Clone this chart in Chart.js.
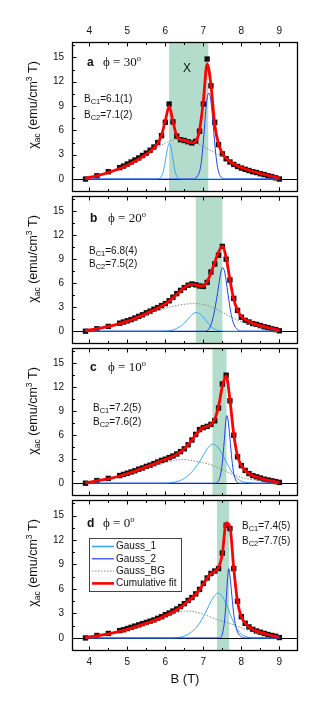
<!DOCTYPE html>
<html>
<head>
<meta charset="utf-8">
<script src="https://cdn.jsdelivr.net/npm/chart.js@4.4.1/dist/chart.umd.min.js"></script>
<style>
html, body { margin: 0; padding: 0; background: #fff; }
#wrap { position: relative; width: 332px; height: 712px; overflow: hidden; }
canvas { position: absolute; left: 0; }
</style>
</head>
<body>
<div id="wrap">
  <canvas id="pa" width="332" height="196" style="top:0px;width:332px;height:196px"></canvas>
  <canvas id="pb" width="332" height="156" style="top:192px;width:332px;height:156px"></canvas>
  <canvas id="pc" width="332" height="156" style="top:344px;width:332px;height:156px"></canvas>
  <canvas id="pd" width="332" height="216" style="top:496px;width:332px;height:216px"></canvas>
</div>
<script>
// field values of the measured points (T)
const field = [3.9, 4.2, 4.5, 4.8, 4.9, 5.0, 5.1, 5.2, 5.3, 5.4, 5.5, 5.6, 5.7, 5.8, 5.9, 6.0,
  6.1, 6.2, 6.3, 6.4, 6.5, 6.6, 6.7, 6.8, 6.9, 7.0, 7.1, 7.2, 7.3, 7.4, 7.5, 7.6, 7.7, 7.8,
  7.9, 8.0, 8.1, 8.2, 8.3, 8.4, 8.5, 8.6, 8.7, 8.8, 8.9, 9.0];

// measured chi_ac, one list per angle
const chiA = [0.0, 0.4, 0.9, 1.4, 1.6, 1.85, 2.1, 2.35, 2.6, 2.9, 3.2, 3.55, 3.95, 4.5, 5.35, 7.0,
  9.25, 7.05, 5.3, 4.85, 4.75, 4.6, 4.45, 4.65, 5.9, 9.25, 14.8, 11.5, 7.0, 4.25, 3.1, 2.5, 2.1, 1.8,
  1.55, 1.35, 1.2, 1.05, 0.9, 0.8, 0.65, 0.55, 0.4, 0.3, 0.15, 0.0];
const chiB = [0.0, 0.3, 0.6, 1.0, 1.15, 1.3, 1.45, 1.65, 1.85, 2.05, 2.3, 2.5, 2.75, 2.95, 3.2, 3.45,
  3.8, 4.25, 4.7, 5.1, 5.45, 5.75, 5.9, 5.8, 5.65, 5.6, 6.1, 7.4, 8.4, 9.5, 10.6, 9.0, 6.4, 4.1,
  2.6, 1.75, 1.35, 1.15, 0.95, 0.85, 0.7, 0.55, 0.45, 0.3, 0.2, 0.05];
const chiC = [0.0, 0.33, 0.6, 0.95, 1.1, 1.25, 1.4, 1.55, 1.75, 1.9, 2.1, 2.25, 2.45, 2.65, 2.85, 3.0,
  3.2, 3.4, 3.65, 3.95, 4.3, 4.8, 5.4, 6.1, 6.7, 6.95, 7.1, 7.35, 7.8, 9.4, 12.4, 13.5, 10.3, 6.0,
  3.3, 2.2, 1.6, 1.2, 0.95, 0.8, 0.65, 0.5, 0.4, 0.3, 0.2, 0.1];
const chiD = [0.0, 0.3, 0.55, 0.9, 1.0, 1.15, 1.3, 1.45, 1.6, 1.75, 1.9, 2.05, 2.2, 2.4, 2.6, 2.85,
  3.05, 3.3, 3.55, 3.85, 4.2, 4.6, 4.95, 5.4, 5.95, 6.7, 7.35, 7.9, 8.2, 8.5, 10.4, 13.8, 13.4, 8.5,
  4.5, 2.6, 1.8, 1.35, 1.05, 0.85, 0.7, 0.55, 0.42, 0.3, 0.2, 0.05];

// cumulative fit, same field grid
const fitA = [0.1, 0.4, 0.8, 1.3, 1.5, 1.7, 1.95, 2.2, 2.45, 2.75, 3.05, 3.4, 3.85, 4.4, 5.4, 7.2,
  8.95, 7.1, 5.3, 4.85, 4.75, 4.6, 4.45, 4.65, 6.0, 9.6, 14.2, 11.6, 6.7, 4.3, 3.2, 2.55, 2.15, 1.85,
  1.6, 1.4, 1.25, 1.1, 0.95, 0.82, 0.7, 0.58, 0.45, 0.35, 0.22, 0.1];
const fitB = [0.1, 0.3, 0.6, 0.95, 1.1, 1.25, 1.4, 1.6, 1.8, 2.0, 2.2, 2.45, 2.65, 2.9, 3.15, 3.4,
  3.75, 4.15, 4.6, 5.05, 5.45, 5.75, 5.85, 5.8, 5.65, 5.65, 6.2, 7.3, 8.6, 9.9, 10.6, 9.2, 6.4, 4.0,
  2.6, 1.85, 1.45, 1.2, 1.0, 0.85, 0.7, 0.58, 0.45, 0.35, 0.22, 0.12];
const fitC = [0.05, 0.3, 0.55, 0.9, 1.05, 1.2, 1.35, 1.5, 1.7, 1.85, 2.05, 2.2, 2.4, 2.6, 2.8, 2.95,
  3.15, 3.35, 3.6, 3.9, 4.3, 4.8, 5.4, 6.05, 6.6, 6.95, 7.1, 7.35, 8.0, 9.6, 12.1, 13.4, 10.4, 6.1,
  3.4, 2.2, 1.55, 1.2, 0.95, 0.78, 0.62, 0.5, 0.38, 0.28, 0.18, 0.1];
const fitD = [0.05, 0.25, 0.5, 0.8, 0.92, 1.05, 1.2, 1.35, 1.5, 1.65, 1.8, 1.95, 2.12, 2.3, 2.5, 2.75,
  2.95, 3.2, 3.45, 3.75, 4.1, 4.5, 4.9, 5.35, 5.9, 6.6, 7.3, 7.85, 8.15, 8.6, 10.3, 14.1, 13.6, 8.5,
  4.4, 2.6, 1.8, 1.35, 1.05, 0.85, 0.7, 0.55, 0.42, 0.3, 0.2, 0.1];

// fit components, [field, chi] pairs
const gauss1A = [[3.9, 0], [5.8, 0], [5.9, 0.35], [5.95, 1.0], [6.0, 2.2], [6.05, 3.6], [6.1, 4.4],
  [6.15, 3.9], [6.2, 2.5], [6.25, 1.1], [6.3, 0.35], [6.4, 0], [9.0, 0]];
const gauss2A = [[3.9, 0], [6.75, 0], [6.85, 0.4], [6.9, 0.9], [6.95, 2.2], [7.0, 4.6], [7.05, 7.6],
  [7.1, 10.0], [7.15, 10.6], [7.2, 9.6], [7.25, 7.2], [7.3, 4.4], [7.35, 2.2], [7.4, 0.9],
  [7.45, 0.35], [7.55, 0], [9.0, 0]];
const bgA = [[3.9, 0.1], [4.5, 0.8], [5.0, 1.7], [5.5, 3.0], [5.8, 3.9], [6.0, 4.45], [6.2, 4.8],
  [6.4, 4.95], [6.6, 4.8], [6.8, 4.45], [7.0, 4.0], [7.2, 3.5], [7.4, 3.0], [7.6, 2.5], [7.8, 1.95],
  [8.0, 1.45], [8.3, 0.9], [8.6, 0.5], [9.0, 0.15]];

const gauss1B = [[3.9, 0], [6.0, 0], [6.2, 0.15], [6.4, 0.6], [6.5, 1.0], [6.6, 1.55], [6.7, 2.05],
  [6.8, 2.35], [6.9, 2.2], [7.0, 1.75], [7.1, 1.15], [7.2, 0.6], [7.3, 0.25], [7.4, 0.08], [7.6, 0],
  [9.0, 0]];
const gauss2B = [[3.9, 0], [7.05, 0], [7.15, 0.3], [7.2, 0.8], [7.25, 1.6], [7.3, 2.7], [7.35, 4.1],
  [7.4, 5.6], [7.45, 7.1], [7.5, 7.95], [7.55, 7.6], [7.6, 6.3], [7.65, 4.6], [7.7, 3.0], [7.75, 1.7],
  [7.8, 0.9], [7.9, 0.2], [8.0, 0], [9.0, 0]];
const bgB = [[3.9, 0.05], [4.5, 0.6], [5.0, 1.25], [5.5, 2.05], [6.0, 2.85], [6.4, 3.3], [6.8, 3.45],
  [7.0, 3.35], [7.2, 3.05], [7.4, 2.6], [7.6, 2.1], [7.8, 1.6], [8.0, 1.2], [8.3, 0.75], [8.6, 0.4],
  [9.0, 0.1]];

const gauss1C = [[3.9, 0], [6.0, 0], [6.2, 0.1], [6.4, 0.35], [6.6, 0.95], [6.8, 2.0], [6.9, 2.7],
  [7.0, 3.5], [7.1, 4.3], [7.2, 4.8], [7.25, 4.9], [7.3, 4.85], [7.4, 4.4], [7.5, 3.6], [7.6, 2.7],
  [7.7, 1.8], [7.8, 1.05], [7.9, 0.55], [8.0, 0.25], [8.2, 0.05], [8.4, 0], [9.0, 0]];
const gauss2C = [[3.9, 0], [7.3, 0], [7.4, 0.3], [7.45, 1.0], [7.5, 2.6], [7.55, 5.3], [7.6, 8.2],
  [7.62, 8.45], [7.65, 7.9], [7.7, 5.6], [7.75, 3.0], [7.8, 1.2], [7.85, 0.4], [7.95, 0], [9.0, 0]];
const bgC = [[3.9, 0.05], [4.5, 0.55], [5.0, 1.1], [5.5, 1.85], [6.0, 2.55], [6.3, 2.9], [6.5, 2.95],
  [6.8, 2.75], [7.0, 2.55], [7.2, 2.3], [7.5, 1.7], [7.8, 1.05], [8.1, 0.6], [8.5, 0.3], [9.0, 0.1]];

const gauss1D = [[3.9, 0], [6.2, 0], [6.4, 0.1], [6.6, 0.45], [6.8, 1.2], [6.9, 1.8], [7.0, 2.6],
  [7.1, 3.5], [7.2, 4.5], [7.3, 5.2], [7.37, 5.5], [7.45, 5.35], [7.55, 4.7], [7.65, 3.6],
  [7.75, 2.4], [7.85, 1.4], [7.95, 0.7], [8.1, 0.2], [8.3, 0], [9.0, 0]];
const gauss2D = [[3.9, 0], [7.45, 0], [7.5, 0.5], [7.55, 1.8], [7.6, 4.5], [7.64, 7.5], [7.67, 8.5],
  [7.7, 7.6], [7.75, 5.2], [7.8, 2.9], [7.85, 1.5], [7.9, 0.7], [8.0, 0.15], [8.1, 0], [9.0, 0]];
const bgD = [[3.9, 0.05], [4.5, 0.45], [5.0, 0.95], [5.5, 1.6], [6.0, 2.45], [6.3, 3.05], [6.5, 3.3],
  [6.7, 3.25], [7.0, 2.9], [7.3, 2.35], [7.6, 1.9], [7.9, 1.45], [8.2, 0.9], [8.5, 0.5], [9.0, 0.1]];

// shaded B_C1..B_C2 windows
const bands = [[6.1, 7.13], [6.8, 7.5], [7.24, 7.61], [7.36, 7.68]];
const phiLabels = ['30', '20', '10', '0'];
const bc1Labels = ['6.1(1)', '6.8(4)', '7.2(5)', '7.4(5)'];
const bc2Labels = ['7.1(2)', '7.5(2)', '7.6(2)', '7.7(5)'];
const legendLabels = ['Gauss_1', 'Gauss_2', 'Gauss_BG', 'Cumulative fit'];

const xTicks = [4, 5, 6, 7, 8, 9];
const yTicks = [0, 3, 6, 9, 12, 15];
const xMin = 3.545, xMax = 9.49, yMin = -1.6, yMax = 16.9;

const LS = "'Liberation Sans', Arial, sans-serif";
const SERIF = "'Liberation Serif', 'Times New Roman', serif";
Chart.defaults.font.family = LS;
Chart.defaults.color = '#111';

const colG1 = '#3aa8f2', colG2 = '#1f40e8', colBG = '#8a8a8a', colFit = '#ff0000';

const pts = (xs, ys) => xs.map((v, i) => ({ x: v, y: ys[i] }));
const pairs = arr => arr.map(p => ({ x: p[0], y: p[1] }));

// draw a run of text pieces (sub/superscripts)
function rich(ctx, parts, x, y, center) {
  let w = 0;
  for (const p of parts) { ctx.font = p[1]; w += ctx.measureText(p[0]).width; }
  let cx = center ? x - w / 2 : x;
  for (const p of parts) {
    ctx.font = p[1];
    ctx.fillText(p[0], cx, y + (p[2] || 0));
    cx += ctx.measureText(p[0]).width;
  }
}

function makeDeco(p) {
  return {
    id: 'deco' + p.letter,
    beforeDatasetsDraw(chart) {
      const { ctx, chartArea: ca, scales: { x, y } } = chart;
      ctx.save();
      const x0 = x.getPixelForValue(p.band[0]), x1 = x.getPixelForValue(p.band[1]);
      ctx.fillStyle = '#b3dccd';
      ctx.fillRect(x0, ca.top, x1 - x0, ca.bottom - ca.top);
      const y0 = Math.round(y.getPixelForValue(0)) + 0.5;
      ctx.strokeStyle = '#000';
      ctx.lineWidth = 1;
      ctx.beginPath(); ctx.moveTo(ca.left, y0); ctx.lineTo(ca.right, y0); ctx.stroke();
      ctx.restore();
    },
    afterDraw(chart) {
      const { ctx, chartArea: ca, scales: { x, y } } = chart;
      ctx.save();
      // frame
      ctx.strokeStyle = '#000';
      ctx.lineWidth = 1.3;
      ctx.strokeRect(ca.left + 0.5, ca.top + 0.5, ca.right - ca.left - 1, ca.bottom - ca.top - 1);
      // inward ticks
      ctx.lineWidth = 1;
      ctx.beginPath();
      xTicks.flatMap(v => [v - 0.5, v]).concat([9.0]).forEach(v => {
        if (v < xMin || v > xMax) return;
        const px = Math.round(x.getPixelForValue(v)) + 0.5;
        const len = Number.isInteger(v) ? 4.5 : 3;
        ctx.moveTo(px, ca.top); ctx.lineTo(px, ca.top + len);
        ctx.moveTo(px, ca.bottom); ctx.lineTo(px, ca.bottom - len);
      });
      yTicks.flatMap(v => [v, v + 1.5]).forEach(v => {
        if (v > yMax) return;
        const py = Math.round(y.getPixelForValue(v)) + 0.5;
        const len = v % 3 === 0 ? 4.5 : 3;
        ctx.moveTo(ca.left, py); ctx.lineTo(ca.left + len, py);
      });
      ctx.stroke();

      ctx.fillStyle = '#111';
      ctx.textBaseline = 'middle';
      ctx.textAlign = 'left';

      // y title
      ctx.save();
      ctx.translate(34, ca.top + 63);
      ctx.rotate(-Math.PI / 2);
      rich(ctx, [['\u03c7', `12.5px ${LS}`], ['ac', `8.5px ${LS}`, 3.5], [' (emu/cm', `12.5px ${LS}`],
        ['3', `8.5px ${LS}`, -4.5], [' T)', `12.5px ${LS}`]], 0, 0, true);
      ctx.restore();

      // panel letter and angle
      ctx.font = `bold 12px ${LS}`;
      ctx.fillText(p.letter, p.lab[0], ca.top + p.lab[1]);
      rich(ctx, [['\u03d5 = ' + p.phi, `13px ${SERIF}`], ['o', `8.5px ${SERIF}`, -4.5]], p.lab[2], ca.top + p.lab[1]);

      // critical fields
      rich(ctx, [['B', `10px ${LS}`], ['C1', `7.5px ${LS}`, 3], ['=' + p.bc1, `10px ${LS}`]], p.bc[0], ca.top + p.bc[1]);
      rich(ctx, [['B', `10px ${LS}`], ['C2', `7.5px ${LS}`, 3], ['=' + p.bc2, `10px ${LS}`]], p.bc[0], ca.top + p.bc[2]);

      if (p.cross) {
        ctx.font = `12px ${LS}`;
        ctx.textAlign = 'center';
        ctx.fillText('X', 187, ca.top + 27);
        ctx.textAlign = 'left';
      }

      if (p.legend) {
        const bx = ca.left + 17, by = ca.top + 38, bw = 92, bh = 53;
        ctx.strokeStyle = '#444';
        ctx.lineWidth = 1;
        ctx.strokeRect(bx + 0.5, by + 0.5, bw, bh);
        const styles = [[colG1, 1.6, []], [colG2, 1.2, []], [colBG, 1, [1.5, 1.5]], [colFit, 2.6, []]];
        legendLabels.forEach((lab, i) => {
          const yy = by + 8.5 + i * 12.3;
          ctx.strokeStyle = styles[i][0];
          ctx.lineWidth = styles[i][1];
          ctx.setLineDash(styles[i][2]);
          ctx.beginPath(); ctx.moveTo(bx + 3, yy); ctx.lineTo(bx + 25, yy); ctx.stroke();
          ctx.setLineDash([]);
          ctx.font = `10px ${LS}`;
          ctx.fillText(lab, bx + 27, yy);
        });
      }
      ctx.restore();
    }
  };
}

function makePanel(p) {
  const xScale = {
    type: 'linear', min: xMin, max: xMax,
    position: p.axis === 'top' ? 'top' : 'bottom',
    display: p.axis !== 'none',
    afterBuildTicks: s => { s.ticks = xTicks.map(v => ({ value: v })); },
    grid: { display: false, drawTicks: false },
    border: { display: false },
    ticks: { padding: 5, font: { size: 10 }, maxRotation: 0 }
  };
  if (p.axis === 'top') xScale.afterFit = s => { s.height = 42; s.paddingLeft = 0; s.paddingRight = 0; };
  if (p.axis === 'bottom') {
    xScale.afterFit = s => { s.height = 61; s.paddingLeft = 0; s.paddingRight = 0; };
    xScale.title = { display: true, text: 'B (T)', font: { size: 13 }, padding: { top: 0, bottom: 25 }, color: '#111' };
  }
  new Chart(document.getElementById(p.id), {
    type: 'scatter',
    data: {
      datasets: [
        { label: legendLabels[3], data: pts(field, p.fit), showLine: true, borderColor: colFit, borderWidth: 2.8,
          pointRadius: 0, cubicInterpolationMode: 'monotone' },
        { label: legendLabels[1], data: pairs(p.g2), showLine: true, borderColor: colG2, borderWidth: 1,
          pointRadius: 0, cubicInterpolationMode: 'monotone' },
        { label: legendLabels[0], data: pairs(p.g1), showLine: true, borderColor: colG1, borderWidth: 1,
          pointRadius: 0, cubicInterpolationMode: 'monotone' },
        { label: legendLabels[2], data: pairs(p.bg), showLine: true, borderColor: colBG, borderWidth: 1,
          borderDash: [1.5, 1.5], pointRadius: 0, cubicInterpolationMode: 'monotone' },
        { label: 'data', data: pts(field, p.chi), pointStyle: 'rect', pointRadius: 3.8,
          backgroundColor: '#151010', borderWidth: 0 }
      ]
    },
    options: {
      responsive: false,
      animation: false,
      devicePixelRatio: 1,
      layout: { padding: { left: 0, right: 34, top: p.pad[0], bottom: p.pad[1] } },
      plugins: { legend: { display: false }, tooltip: { enabled: false } },
      scales: {
        x: xScale,
        y: {
          min: yMin, max: yMax,
          afterFit: s => { s.width = 72; s.paddingTop = 0; s.paddingBottom = 0; },
          afterBuildTicks: s => { s.ticks = yTicks.map(v => ({ value: v })); },
          grid: { display: false, drawTicks: false },
          border: { display: false },
          ticks: { padding: 8, font: { size: 10 } }
        }
      }
    },
    plugins: [makeDeco(p)]
  });
}

makePanel({ id: 'pa', letter: 'a', phi: phiLabels[0], bc1: bc1Labels[0], bc2: bc2Labels[0], band: bands[0],
  chi: chiA, fit: fitA, g1: gauss1A, g2: gauss2A, bg: bgA, axis: 'top', pad: [0, 2],
  lab: [87, 21, 103], bc: [84, 57, 73], cross: true });
makePanel({ id: 'pb', letter: 'b', phi: phiLabels[1], bc1: bc1Labels[1], bc2: bc2Labels[1], band: bands[1],
  chi: chiB, fit: fitB, g1: gauss1B, g2: gauss2B, bg: bgB, axis: 'none', pad: [2, 2],
  lab: [90, 23, 108], bc: [89, 55, 68] });
makePanel({ id: 'pc', letter: 'c', phi: phiLabels[2], bc1: bc1Labels[2], bc2: bc2Labels[2], band: bands[2],
  chi: chiC, fit: fitC, g1: gauss1C, g2: gauss2C, bg: bgC, axis: 'none', pad: [2, 2],
  lab: [90, 20, 108], bc: [93, 60, 74] });
makePanel({ id: 'pd', letter: 'd', phi: phiLabels[3], bc1: bc1Labels[3], bc2: bc2Labels[3], band: bands[3],
  chi: chiD, fit: fitD, g1: gauss1D, g2: gauss2D, bg: bgD, axis: 'bottom', pad: [2, 0],
  lab: [87, 24, 103], bc: [242, 26, 41], legend: true });
</script>
</body>
</html>
